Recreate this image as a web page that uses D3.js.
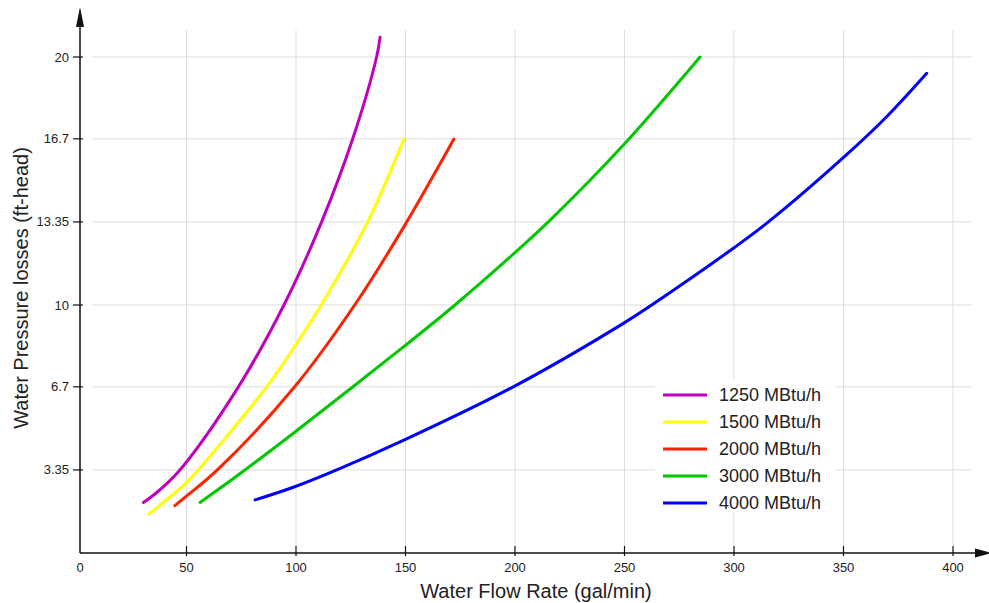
<!DOCTYPE html>
<html>
<head>
<meta charset="utf-8">
<script src="https://cdn.jsdelivr.net/npm/d3@7"></script>
<style>
  body { margin: 0; background: #ffffff; }
  svg text { font-family: Arial, "Liberation Sans", sans-serif; fill: #222222; }
</style>
</head>
<body>
<svg id="chart" width="989" height="603"></svg>
<script>

const xTicks = [0, 50, 100, 150, 200, 250, 300, 350, 400];
const yTicks = [3.35, 6.7, 10, 13.35, 16.7, 20];

const seriesNames = ['1250 MBtu/h', '1500 MBtu/h', '2000 MBtu/h', '3000 MBtu/h', '4000 MBtu/h'];

// gal/min vs ft-head (mostly at grid crossings)
const flow1250 = [30.3, 35.6, 47.0, 73.7, 94.5, 111.7, 125.9, 136.8, 138.4];
const loss1250 = [2.04, 2.38, 3.35, 6.7, 10.0, 13.35, 16.7, 20.0, 20.8];

const flow1500 = [32.9, 50.1, 55.4, 86.6, 98.8, 111.5, 132.7, 149.3];
const loss1500 = [1.57, 2.85, 3.35, 6.7, 8.25, 10.0, 13.35, 16.7];

const flow2000 = [44.7, 50.1, 64.1, 98.8, 126.8, 149.3, 172.1];
const loss2000 = [1.91, 2.3, 3.35, 6.64, 10.0, 13.16, 16.69];

const flow3000 = [56.2, 76.7, 98.8, 149.2, 172.6, 199.2, 215.2, 249.5, 284.5];
const loss3000 = [2.04, 3.35, 4.83, 8.32, 10.0, 12.05, 13.35, 16.45, 20.0];

const flow4000 = [81.3, 98.8, 118.6, 149.5, 199.2, 249.5, 262.4, 299.7, 315.7, 350.4, 369.7, 388.0];
const loss4000 = [2.14, 2.65, 3.35, 4.56, 6.7, 9.26, 10.0, 12.29, 13.35, 15.98, 17.59, 19.34];

const seriesColors = ['#bf00bf', '#ffff00', '#ff2200', '#00c800', '#0000ff'];


const axisX = 80;   // y axis position
const axisY = 553;  // x axis position

const x = d3.scaleLinear().domain([0, 400]).range([77, 953]);
const y = d3.scaleLinear().domain([0, 20]).range([axisY, 57]);

const series = [
  d3.zip(flow1250, loss1250),
  d3.zip(flow1500, loss1500),
  d3.zip(flow2000, loss2000),
  d3.zip(flow3000, loss3000),
  d3.zip(flow4000, loss4000)
].map((pts, i) => ({name: seriesNames[i], color: seriesColors[i], points: pts}));


function drawGrid(selection) {
  selection.append('g')
      .attr('class', 'grid-x')
    .selectAll('line')
    .data(xTicks.filter(d => d > 0))
    .enter().append('line')
      .attr('x1', d => x(d))
      .attr('x2', d => x(d))
      .attr('y1', 30)
      .attr('y2', axisY - 7)
      .attr('stroke', '#dddddd')
      .attr('stroke-width', 1);
  selection.append('g')
      .attr('class', 'grid-y')
    .selectAll('line')
    .data(yTicks)
    .enter().append('line')
      .attr('x1', 92)
      .attr('x2', 972)
      .attr('y1', d => y(d))
      .attr('y2', d => y(d))
      .attr('stroke', '#dddddd')
      .attr('stroke-width', 1);
}


function drawAxes(selection) {
  const g = selection.append('g').attr('class', 'axes');
  // x axis
  g.append('line')
      .attr('x1', axisX).attr('y1', axisY)
      .attr('x2', 976).attr('y2', axisY)
      .attr('stroke', '#111').attr('stroke-width', 1.5);
  g.append('path')
      .attr('d', `M975,${axisY - 4.5}L992,${axisY}L975,${axisY + 4.5}Z`)
      .attr('fill', '#111');
  // y axis
  g.append('line')
      .attr('x1', axisX).attr('y1', axisY)
      .attr('x2', axisX).attr('y2', 26)
      .attr('stroke', '#111').attr('stroke-width', 1.5);
  g.append('path')
      .attr('d', `M${axisX - 4},27L${axisX},7L${axisX + 4},27Z`)
      .attr('fill', '#111');

  const xt = g.append('g').selectAll('g')
    .data(xTicks)
    .enter().append('g')
      .attr('transform', d => `translate(${d === 0 ? axisX : x(d)},${axisY})`);
  xt.filter(d => d > 0).append('line')
      .attr('y1', -7).attr('y2', 3)
      .attr('stroke', '#111').attr('stroke-width', 1.2);
  xt.append('text')
      .attr('y', 19)
      .attr('text-anchor', 'middle')
      .attr('font-size', 13)
      .text(d => d);

  const yt = g.append('g').selectAll('g')
    .data(yTicks)
    .enter().append('g')
      .attr('transform', d => `translate(${axisX},${y(d)})`);
  yt.append('line')
      .attr('x1', -7).attr('x2', 3)
      .attr('stroke', '#111').attr('stroke-width', 1.2);
  yt.append('text')
      .attr('x', -11)
      .attr('dy', '0.35em')
      .attr('text-anchor', 'end')
      .attr('font-size', 13)
      .text(d => d);

  // titles
  g.append('text')
      .attr('x', 536).attr('y', 598)
      .attr('text-anchor', 'middle')
      .attr('font-size', 20)
      .text('Water Flow Rate (gal/min)');
  g.append('text')
      .attr('transform', 'translate(28,288) rotate(-90)')
      .attr('text-anchor', 'middle')
      .attr('font-size', 20)
      .text('Water Pressure losses (ft-head)');
}


function drawCurves(selection) {
  const line = d3.line()
      .x(d => x(d[0]))
      .y(d => y(d[1]))
      .curve(d3.curveCatmullRom.alpha(0.5));
  selection.append('g')
      .attr('class', 'curves')
    .selectAll('path')
    .data(series)
    .enter().append('path')
      .attr('d', d => line(d.points))
      .attr('fill', 'none')
      .attr('stroke', d => d.color)
      .attr('stroke-width', 3)
      .attr('stroke-linecap', 'round');
}


function drawLegend(selection) {
  const g = selection.append('g')
      .attr('class', 'legend');
  g.append('rect')
      .attr('x', 655).attr('y', 379)
      .attr('width', 180).attr('height', 133)
      .attr('fill', '#ffffff');
  const rows = g.selectAll('.legend-row')
    .data(series)
    .enter().append('g')
      .attr('class', 'legend-row')
      .attr('transform', (d, i) => `translate(663,${395 + i * 27})`);
  rows.append('line')
      .attr('x1', 0).attr('x2', 44)
      .attr('stroke', d => d.color)
      .attr('stroke-width', 3);
  rows.append('text')
      .attr('x', 56)
      .attr('dy', '0.35em')
      .attr('font-size', 18)
      .text(d => d.name);
}


const svg = d3.select('#chart');
svg.append('rect')
    .attr('width', 989).attr('height', 603)
    .attr('fill', '#ffffff');
svg.call(drawGrid);
svg.call(drawLegend);
svg.call(drawCurves);
svg.call(drawAxes);

</script>
</body>
</html>
